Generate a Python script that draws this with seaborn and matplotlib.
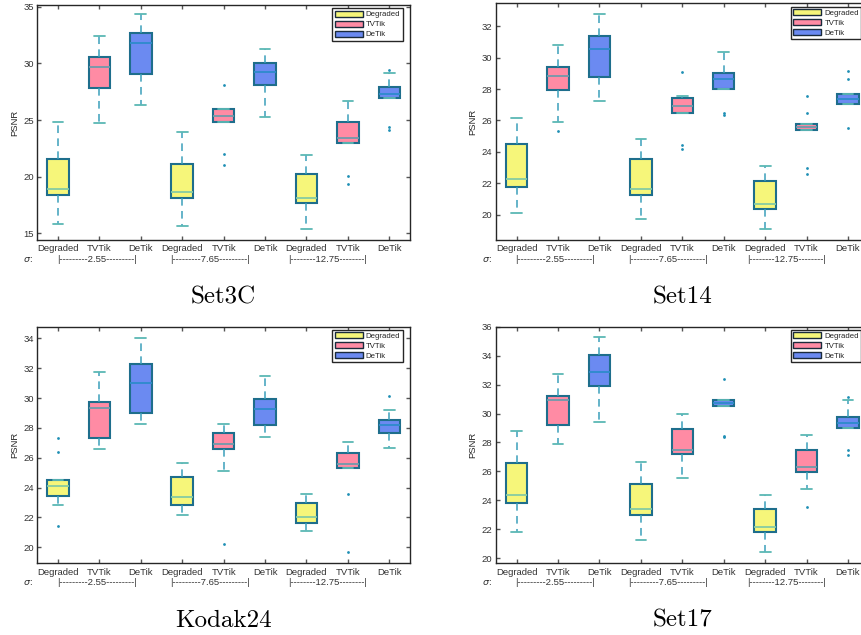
import numpy as np
import pandas as pd
import matplotlib
matplotlib.use('Agg')
import matplotlib.pyplot as plt
import seaborn as sns
from matplotlib.patches import Patch

sns.set_style('ticks')
plt.rcParams['font.family'] = ['Liberation Sans', 'DejaVu Sans']

methods = ['Degraded', 'TVTik', 'DeTik']
sigmas = ['2.55', '7.65', '12.75']
datasets = ['Set3C', 'Set14', 'Kodak24', 'Set17']

# box summaries, one row per box:
# (lower whisker, q1, median, q3, upper whisker)
# order: Degraded/TVTik/DeTik at sigma 2.55, then 7.65, then 12.75
set3c_stats = [
    (15.80, 18.38, 18.94, 21.56, 24.80),
    (24.70, 27.80, 29.70, 30.59, 32.44),
    (26.30, 29.06, 31.76, 32.70, 34.35),
    (15.65, 18.15, 18.68, 21.09, 23.97),
    (24.82, 24.82, 25.32, 25.94, 25.94),
    (25.30, 28.06, 29.24, 30.06, 31.24),
    (15.35, 17.68, 18.15, 20.24, 21.91),
    (22.94, 22.94, 23.41, 24.80, 26.68),
    (26.91, 26.91, 27.26, 27.88, 29.18),
]
set3c_outliers = [[], [], [], [], [28.06, 22.03, 21.06], [], [],
                  [20.05, 19.35], [29.41, 24.41, 24.12]]

set14_stats = [
    (20.10, 21.78, 22.26, 24.53, 26.14),
    (25.93, 27.94, 28.85, 29.42, 30.79),
    (27.26, 28.74, 30.52, 31.34, 32.76),
    (19.72, 21.25, 21.67, 23.56, 24.80),
    (26.46, 26.46, 26.92, 27.43, 27.58),
    (28.02, 28.02, 28.63, 29.00, 30.35),
    (19.09, 20.36, 20.72, 22.18, 23.11),
    (25.42, 25.42, 25.61, 25.76, 25.76),
    (27.07, 27.07, 27.37, 27.66, 27.66),
]
set14_outliers = [[], [25.31], [], [], [29.10, 24.42, 24.17], [26.50, 26.35], [],
                  [27.56, 26.46, 22.96, 22.60], [29.14, 28.66, 25.55]]

kodak24_stats = [
    (22.84, 23.44, 24.11, 24.53, 24.53),
    (26.56, 27.30, 29.33, 29.76, 31.77),
    (28.28, 29.00, 31.00, 32.30, 34.04),
    (22.17, 22.86, 23.35, 24.69, 25.67),
    (25.13, 26.56, 26.92, 27.64, 28.28),
    (27.37, 28.19, 29.24, 29.91, 31.45),
    (21.12, 21.61, 22.01, 22.99, 23.59),
    (25.31, 25.31, 25.58, 26.34, 27.06),
    (26.63, 27.64, 28.19, 28.55, 29.22),
]
kodak24_outliers = [[27.35, 26.39, 21.43], [], [], [], [20.25], [], [],
                    [23.59, 19.67], [30.14]]

set17_stats = [
    (21.82, 23.80, 24.35, 26.61, 28.82),
    (27.90, 29.23, 30.91, 31.21, 32.75),
    (29.42, 31.88, 32.85, 34.07, 35.26),
    (21.27, 22.97, 23.41, 25.16, 26.68),
    (25.55, 27.18, 27.50, 28.91, 29.97),
    (30.52, 30.52, 30.75, 30.96, 30.96),
    (20.41, 21.80, 22.14, 23.38, 24.37),
    (24.81, 25.96, 26.28, 27.46, 28.54),
    (29.00, 29.00, 29.37, 29.78, 30.93),
]
set17_outliers = [[], [], [], [], [], [32.41, 28.45, 28.35], [],
                  [23.57], [31.16, 27.46, 27.11]]

all_stats = [set3c_stats, set14_stats, kodak24_stats, set17_stats]
all_outliers = [set3c_outliers, set14_outliers, kodak24_outliers, set17_outliers]

y_limits = [(14.4, 35.15), (18.4, 33.45), (18.93, 34.78), (19.65, 36.0)]
y_ticks = [np.arange(15, 36, 5), np.arange(20, 33, 2), np.arange(20, 35, 2), np.arange(20, 37, 2)]

face_colors = {'Degraded': '#F6F67A', 'TVTik': '#FF8BA4', 'DeTik': '#6B8AF1'}
median_colors = {'Degraded': '#86CBA2', 'TVTik': '#6F9AAB', 'DeTik': '#2E8BCC'}
edge_color = '#1E6E8C'
whisker_color = '#3A9FBA'
cap_color = '#5BB8B4'
flier_color = '#1F8FB5'


def samples_from_summary(stats, outliers, rep=20):
    lo, q1, med, q3, hi = stats
    return list(outliers) + [lo] + [q1] * rep + [med] * rep + [q3] * rep + [hi]


def build_frame(stats_list, outlier_list):
    rows = []
    k = 0
    for s in sigmas:
        for m in methods:
            for v in samples_from_summary(stats_list[k], outlier_list[k]):
                rows.append({'group': f'{m} {s}', 'method': m, 'psnr': v})
            k += 1
    return pd.DataFrame(rows)


group_order = [f'{m} {s}' for s in sigmas for m in methods]

fig = plt.figure(figsize=(8.61, 6.35), dpi=100)
positions = [
    [0.0433, 0.622, 0.4329, 0.370],
    [0.576, 0.622, 0.4329, 0.3728],
    [0.0433, 0.1129, 0.4329, 0.3726],
    [0.576, 0.1129, 0.4329, 0.3726],
]
sigma_left = [-0.03, 2.70, 5.56]
sigma_text = ['|---------2.55---------|', '|---------7.65---------|', '|--------12.75--------|']

for i, name in enumerate(datasets):
    ax = fig.add_axes(positions[i])
    df = build_frame(all_stats[i], all_outliers[i])
    sns.boxplot(data=df, x='group', y='psnr', hue='method', order=group_order,
                hue_order=methods, palette=face_colors, dodge=False, width=0.52,
                saturation=1, whis=1.5, legend=False, ax=ax, linecolor=edge_color)

    for c, m in zip(ax.containers, methods):
        for b in c.boxes:
            b.set_edgecolor(edge_color)
            b.set_linewidth(1.5)
        for md in c.medians:
            md.set_color(median_colors[m])
            md.set_linewidth(1.3)
        for w in c.whiskers:
            w.set_color(whisker_color)
            w.set_linestyle((0, (5, 3.5)))
            w.set_linewidth(1.1)
        for cp in c.caps:
            cp.set_color(cap_color)
            cp.set_linewidth(1.3)
        for f in c.fliers:
            f.set_marker('o')
            f.set_markersize(2.0)
            f.set_markerfacecolor(flier_color)
            f.set_markeredgecolor(flier_color)
            f.set_markeredgewidth(0)

    ax.set_xlim(-0.5, 8.5)
    ax.set_ylim(*y_limits[i])
    ax.set_yticks(y_ticks[i])
    ax.set_xticks(range(9))
    ax.set_xticklabels(methods * 3)
    ax.set_xlabel('')
    ax.set_ylabel('PSNR', fontsize=6.8, color='#262626', labelpad=3)
    ax.tick_params(direction='in', top=True, right=True, length=3, width=1.0,
                   color='#555555', labelsize=6.8, labelcolor='#333333')
    ax.tick_params(axis='x', pad=3.2)
    ax.tick_params(axis='y', pad=2.5)
    for sp in ax.spines.values():
        sp.set_visible(True)
        sp.set_color('#262626')
        sp.set_linewidth(1.0)

    # sigma row under the tick labels
    ax.annotate(r'$\sigma$:', xy=(-0.038, 0), xycoords='axes fraction',
                xytext=(0, -13.7), textcoords='offset points',
                ha='left', va='center', fontsize=6.8, color='#333333')
    for xl, t in zip(sigma_left, sigma_text):
        ax.annotate(t, xy=(xl, 0), xycoords=('data', 'axes fraction'),
                    xytext=(0, -13.7), textcoords='offset points',
                    ha='left', va='center', fontsize=6.8, color='#333333')

    handles = [Patch(facecolor=face_colors[m], edgecolor='#1A2B3C', linewidth=1.0, label=m)
               for m in methods]
    leg = ax.legend(handles=handles, loc='upper right', bbox_to_anchor=(0.98, 0.986),
                    fontsize=5.6, frameon=True, fancybox=False, framealpha=1,
                    edgecolor='#262626', handlelength=3.6, handleheight=0.8,
                    labelspacing=0.3, borderpad=0.3, handletextpad=0.4, borderaxespad=0)
    leg.get_frame().set_linewidth(1.0)

    # caption below each panel
    pos = positions[i]
    cap_y = 0.5217 if i < 2 else 0.0126
    fig.text(pos[0] + pos[2] / 2, cap_y, name, ha='center', va='baseline',
             fontsize=18, family='cmr10', color='black')

fig.savefig('out.png', dpi=100, facecolor='white')
